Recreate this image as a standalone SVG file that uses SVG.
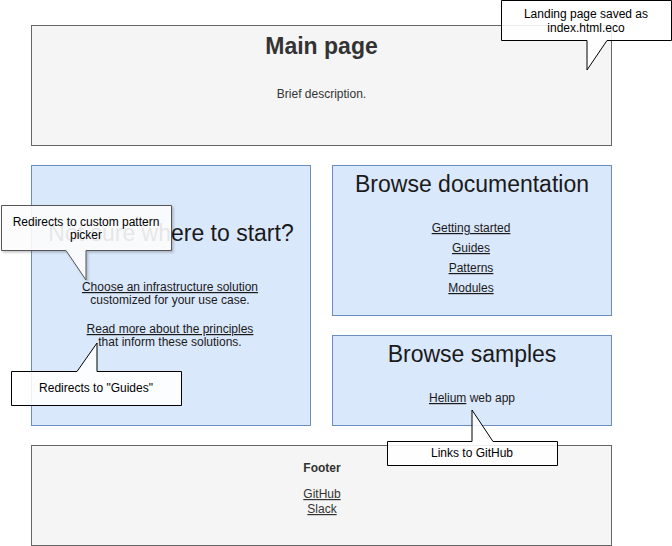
<svg xmlns="http://www.w3.org/2000/svg" width="672" height="546" viewBox="0 0 672 546">
  <style>
    text { font-family: "Liberation Sans", Arial, sans-serif; font-size: 12px; text-anchor: middle; }
    .grey { fill: #f5f5f5; stroke: #666666; stroke-width: 1; }
    .blue { fill: #dae8fc; stroke: #6c8ebf; stroke-width: 1; }
    .dark { fill: #333333; }
    .ink { fill: #1a1a1a; }
    .title { font-size: 23px; }
    .link { text-decoration: underline; }
    .callout { fill: #ffffff; fill-opacity: 0.88; stroke: #000000; stroke-width: 1; }
  </style>
  <defs>
    <filter id="soft" x="-10%" y="-10%" width="130%" height="130%">
      <feDropShadow dx="1.5" dy="1.5" stdDeviation="0.8" flood-color="#000000" flood-opacity="0.25"/>
    </filter>
  </defs>

  <g id="main-page">
    <rect class="grey" x="31.5" y="25.5" width="580" height="120"/>
    <text class="dark title" x="321.5" y="54" font-weight="bold">Main page</text>
    <text class="dark" x="321.5" y="98">Brief description.</text>
  </g>

  <g id="not-sure">
    <rect class="blue" x="31.5" y="165.5" width="279" height="260"/>
    <text class="ink title" x="171" y="241">Not sure where to start?</text>
    <text class="ink link" x="170" y="291">Choose an infrastructure solution</text>
    <text class="ink" x="170" y="304">customized for your use case.</text>
    <text class="ink link" x="170" y="333">Read more about the principles</text>
    <text class="ink" x="170" y="346">that inform these solutions.</text>
  </g>

  <g id="browse-docs">
    <rect class="blue" x="332.5" y="165.5" width="279" height="150"/>
    <text class="ink title" x="472" y="192">Browse documentation</text>
    <text class="ink link" x="471" y="232">Getting started</text>
    <text class="ink link" x="471" y="252">Guides</text>
    <text class="ink link" x="471" y="272">Patterns</text>
    <text class="ink link" x="471" y="292">Modules</text>
  </g>

  <g id="browse-samples">
    <rect class="blue" x="332.5" y="335.5" width="279" height="90"/>
    <text class="ink title" x="472" y="362">Browse samples</text>
    <text class="ink" x="472" y="402"><tspan class="link">Helium</tspan> web app</text>
  </g>

  <g id="footer">
    <rect class="grey" x="31.5" y="445.5" width="580" height="100"/>
    <text class="dark" x="322" y="472" font-weight="bold">Footer</text>
    <text class="dark link" x="322" y="498">GitHub</text>
    <text class="dark link" x="322" y="513">Slack</text>
  </g>

  <g id="connectors">
    <g id="note-landing">
      <path class="callout" d="M501.5,0.5 H671.5 V40.5 H607 L587,70 V40.5 H501.5 Z"/>
      <text x="586" y="18">Landing page saved as</text>
      <text x="586" y="32">index.html.eco</text>
    </g>
    <g id="note-picker">
      <path class="callout" filter="url(#soft)" style="stroke:#555555" d="M1.5,205.5 H171.5 V250.5 H86 V280 L66,250.5 H1.5 Z"/>
      <text x="86" y="226">Redirects to custom pattern</text>
      <text x="86" y="239">picker</text>
    </g>
    <g id="note-guides">
      <path class="callout" d="M11.5,371.5 H77 L97,343 V371.5 H181.5 V405.5 H11.5 Z"/>
      <text x="96" y="392">Redirects to "Guides"</text>
    </g>
    <g id="note-github">
      <path class="callout" d="M387.5,441.5 H472 V410 L493,441.5 H557.5 V465.5 H387.5 Z"/>
      <text x="472" y="457">Links to GitHub</text>
    </g>
  </g>
</svg>
